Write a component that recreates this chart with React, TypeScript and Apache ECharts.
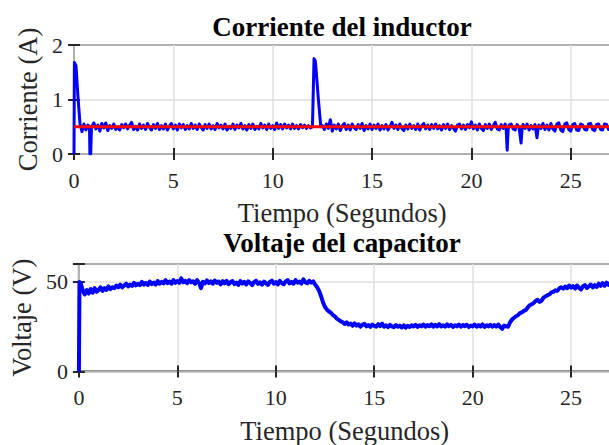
import React, { useEffect, useRef } from "react";
import * as echarts from "echarts";

const titleTop = "Corriente del inductor";
const titleBottom = "Voltaje del capacitor";
const xName = "Tiempo (Segundos)";
const yNameTop = "Corriente (A)";
const yNameBottom = "Voltaje (V)";

const currentRef: [number, number][] = [[0, 0.5], [27, 0.5]];

const currentMeasured: [number, number][] = [
  [0, 0], [0.02, 1.68], [0.1, 1.62], [0.2, 1.05], [0.3, 0.56], [0.4, 0.41], [0.5, 0.55], [0.6, 0.44],
  [0.7, 0.53], [0.78, 0.5], [0.8, 0.0], [0.84, 0.0], [0.88, 0.5], [1.0, 0.57], [1.1, 0.46], [1.2, 0.53],
  [1.3, 0.42], [1.4, 0.56], [1.5, 0.48], [1.6, 0.57], [1.7, 0.43], [1.8, 0.52], [1.9, 0.47], [2.0, 0.55],
  [2.1, 0.45], [2.2, 0.5], [2.3, 0.44], [2.4, 0.54], [2.5, 0.48], [2.6, 0.55], [2.7, 0.46], [2.8, 0.53],
  [2.9, 0.58], [3.0, 0.45], [3.1, 0.51], [3.2, 0.44], [3.3, 0.55], [3.4, 0.47], [3.5, 0.53], [3.6, 0.45],
  [3.7, 0.56], [3.8, 0.49], [3.9, 0.44], [4.0, 0.54], [4.1, 0.47], [4.2, 0.56], [4.3, 0.45], [4.4, 0.52],
  [4.5, 0.46], [4.6, 0.55], [4.7, 0.44], [4.8, 0.51], [4.9, 0.56], [5.0, 0.46], [5.1, 0.53], [5.2, 0.44],
  [5.3, 0.55], [5.4, 0.48], [5.5, 0.54], [5.6, 0.45], [5.7, 0.52], [5.8, 0.46], [5.9, 0.56], [6.0, 0.47],
  [6.1, 0.53], [6.2, 0.45], [6.3, 0.55], [6.4, 0.49], [6.5, 0.44], [6.6, 0.54], [6.7, 0.47], [6.8, 0.55],
  [6.9, 0.46], [7.0, 0.52], [7.1, 0.45], [7.2, 0.56], [7.3, 0.48], [7.4, 0.53], [7.5, 0.46], [7.6, 0.55],
  [7.7, 0.44], [7.8, 0.51], [7.9, 0.47], [8.0, 0.55], [8.1, 0.45], [8.2, 0.53], [8.3, 0.48], [8.4, 0.56],
  [8.5, 0.46], [8.6, 0.52], [8.7, 0.44], [8.8, 0.54], [8.9, 0.47], [9.0, 0.55], [9.1, 0.45], [9.2, 0.51],
  [9.3, 0.46], [9.4, 0.56], [9.5, 0.48], [9.6, 0.53], [9.7, 0.45], [9.8, 0.55], [9.9, 0.47], [10.0, 0.52],
  [10.1, 0.45], [10.2, 0.57], [10.3, 0.47], [10.4, 0.54], [10.5, 0.46], [10.6, 0.55], [10.7, 0.48], [10.8, 0.53],
  [10.9, 0.46], [11.0, 0.55], [11.1, 0.47], [11.2, 0.52], [11.3, 0.46], [11.4, 0.54], [11.5, 0.48], [11.6, 0.53],
  [11.7, 0.47], [11.8, 0.52], [11.9, 0.48], [12.0, 0.5], [12.08, 1.75], [12.15, 1.7], [12.3, 1.0],
  [12.42, 0.5], [12.5, 0.52], [12.6, 0.45], [12.7, 0.55], [12.8, 0.47], [12.9, 0.63], [13.0, 0.42], [13.1, 0.53],
  [13.2, 0.46], [13.3, 0.55], [13.4, 0.43], [13.5, 0.52], [13.6, 0.56], [13.7, 0.45], [13.8, 0.53], [13.9, 0.44],
  [14.0, 0.55], [14.1, 0.48], [14.2, 0.45], [14.3, 0.54], [14.4, 0.47], [14.5, 0.56], [14.6, 0.43], [14.7, 0.52],
  [14.8, 0.46], [14.9, 0.55], [15.0, 0.45], [15.1, 0.53], [15.2, 0.47], [15.3, 0.55], [15.4, 0.44], [15.5, 0.52],
  [15.6, 0.46], [15.7, 0.54], [15.8, 0.44], [15.9, 0.5], [16.0, 0.58], [16.1, 0.47], [16.2, 0.53], [16.3, 0.45],
  [16.4, 0.55], [16.5, 0.47], [16.6, 0.43], [16.7, 0.53], [16.8, 0.46], [16.9, 0.55], [17.0, 0.47], [17.1, 0.52],
  [17.2, 0.45], [17.3, 0.55], [17.4, 0.44], [17.5, 0.52], [17.6, 0.56], [17.7, 0.46], [17.8, 0.53], [17.9, 0.45],
  [18.0, 0.54], [18.1, 0.47], [18.2, 0.55], [18.3, 0.46], [18.4, 0.52], [18.5, 0.44], [18.6, 0.54], [18.7, 0.47],
  [18.8, 0.55], [18.9, 0.45], [19.0, 0.52], [19.1, 0.47], [19.2, 0.42], [19.3, 0.53], [19.4, 0.55], [19.5, 0.46],
  [19.6, 0.53], [19.7, 0.45], [19.8, 0.54], [19.9, 0.48], [20.0, 0.59], [20.1, 0.46], [20.2, 0.53], [20.3, 0.44],
  [20.4, 0.55], [20.5, 0.47], [20.6, 0.43], [20.7, 0.54], [20.8, 0.47], [20.9, 0.55], [21.0, 0.45], [21.1, 0.52],
  [21.2, 0.58], [21.3, 0.46], [21.4, 0.44], [21.5, 0.54], [21.6, 0.47], [21.7, 0.55], [21.75, 0.45], [21.8, 0.07],
  [21.85, 0.45], [21.9, 0.53], [22.0, 0.55], [22.1, 0.46], [22.2, 0.44], [22.3, 0.54], [22.4, 0.48], [22.5, 0.2],
  [22.55, 0.46], [22.6, 0.54], [22.7, 0.47], [22.8, 0.55], [22.9, 0.44], [23.0, 0.52], [23.1, 0.46], [23.2, 0.54],
  [23.3, 0.3], [23.35, 0.45], [23.4, 0.53], [23.5, 0.47], [23.6, 0.56], [23.7, 0.45], [23.8, 0.53], [23.9, 0.44],
  [24.0, 0.56], [24.1, 0.46], [24.2, 0.42], [24.3, 0.55], [24.4, 0.57], [24.5, 0.44], [24.6, 0.41], [24.7, 0.55],
  [24.8, 0.57], [24.9, 0.45], [25.0, 0.42], [25.1, 0.54], [25.2, 0.56], [25.3, 0.44], [25.4, 0.43], [25.5, 0.55],
  [25.6, 0.53], [25.7, 0.45], [25.8, 0.44], [25.9, 0.55], [26.0, 0.56], [26.1, 0.45], [26.2, 0.43], [26.3, 0.54],
  [26.4, 0.55], [26.5, 0.45], [26.6, 0.44], [26.7, 0.55], [26.8, 0.54], [26.9, 0.45], [27.0, 0.5],
];

const voltageMeasured: [number, number][] = [
  [0, 0], [0.03, 50], [0.1, 49], [0.2, 45], [0.3, 43], [0.4, 45.5], [0.5, 43.5], [0.6, 46], [0.7, 44],
  [0.8, 46.5], [0.9, 44.5], [1.0, 45.5], [1.1, 47], [1.2, 45], [1.3, 46.5], [1.4, 45.5], [1.5, 47.5],
  [1.6, 46], [1.7, 47], [1.8, 46.5], [1.9, 48], [2.0, 47], [2.1, 48.5], [2.2, 47], [2.3, 48], [2.4, 49],
  [2.5, 47.5], [2.6, 48.5], [2.7, 47.8], [2.8, 49.5], [2.9, 48], [3.0, 49], [3.1, 48.2], [3.2, 50],
  [3.3, 48.5], [3.4, 49.5], [3.5, 48.3], [3.6, 50.2], [3.7, 48.8], [3.8, 49.6], [3.9, 48.5], [4.0, 50.5],
  [4.1, 49], [4.2, 50], [4.3, 49.2], [4.4, 51], [4.5, 49.3], [4.6, 50.2], [4.7, 49], [4.8, 51], [4.9, 49.5],
  [5.0, 50.5], [5.1, 49.5], [5.2, 52], [5.3, 49.8], [5.4, 50.6], [5.5, 49.3], [5.6, 51], [5.7, 49.8],
  [5.8, 50.4], [5.9, 49], [6.0, 51], [6.1, 49.6], [6.2, 46.5], [6.3, 50], [6.4, 49.2], [6.5, 50.8],
  [6.6, 49.4], [6.7, 50.3], [6.8, 49], [6.9, 50.8], [7.0, 49.5], [7.1, 50.2], [7.2, 48.6], [7.3, 50.4],
  [7.4, 49.2], [7.5, 50.6], [7.6, 48.7], [7.7, 49.8], [7.8, 50.5], [7.9, 48.8], [8.0, 49.6], [8.1, 48.3],
  [8.2, 50.5], [8.3, 49.1], [8.4, 50], [8.5, 48.6], [8.6, 50.3], [8.7, 49.4], [8.8, 48.2], [8.9, 50],
  [9.0, 50.6], [9.1, 48.9], [9.2, 49.8], [9.3, 48.5], [9.4, 50.2], [9.5, 49.3], [9.6, 48.3], [9.7, 50],
  [9.8, 50.7], [9.9, 49], [10.0, 49.9], [10.1, 48.6], [10.2, 50.6], [10.3, 49.4], [10.4, 48.7], [10.5, 50.3],
  [10.6, 51], [10.7, 49.2], [10.8, 50], [10.9, 49], [11.0, 51], [11.1, 49.6], [11.2, 50.2], [11.3, 49.1],
  [11.4, 51.5], [11.5, 49.8], [11.6, 49.2], [11.7, 50.6], [11.8, 49.6], [11.9, 50.3], [12.0, 48.5],
  [12.1, 47], [12.2, 45], [12.3, 42], [12.4, 38.5], [12.5, 36], [12.6, 34.5], [12.7, 33.5], [12.8, 32.8],
  [12.9, 31.5], [13.0, 30.8], [13.1, 29.5], [13.2, 28.8], [13.3, 28], [13.4, 27.5], [13.5, 26.5], [13.6, 27.4],
  [13.7, 26.2], [13.8, 26.8], [13.9, 25.5], [14.0, 26.9], [14.1, 25.6], [14.2, 26.3], [14.3, 25], [14.4, 26.1],
  [14.5, 26.6], [14.6, 25.2], [14.7, 25.9], [14.8, 24.9], [14.9, 26.2], [15.0, 25.4], [15.1, 25], [15.2, 26.4],
  [15.3, 25.3], [15.4, 26.7], [15.5, 25], [15.6, 25.8], [15.7, 24.8], [15.8, 26], [15.9, 25.2], [16.0, 24.7],
  [16.1, 25.9], [16.2, 25], [16.3, 25.6], [16.4, 24.6], [16.5, 25.8], [16.6, 24.5], [16.7, 25.5], [16.8, 24.9],
  [16.9, 25.8], [17.0, 25.1], [17.1, 26], [17.2, 24.9], [17.3, 25.8], [17.4, 25.2], [17.5, 26.2], [17.6, 25],
  [17.7, 25.9], [17.8, 25.3], [17.9, 26.3], [18.0, 25], [18.1, 26.1], [18.2, 25.2], [18.3, 26.4], [18.4, 25.1],
  [18.5, 25.8], [18.6, 25], [18.7, 26.3], [18.8, 25.3], [18.9, 26], [19.0, 24.9], [19.1, 25.8], [19.2, 25.2],
  [19.3, 26.2], [19.4, 25], [19.5, 25.9], [19.6, 25.3], [19.7, 26.1], [19.8, 24.8], [19.9, 25.7], [20.0, 25.2],
  [20.1, 26.2], [20.2, 25], [20.3, 25.9], [20.4, 25.1], [20.5, 26.3], [20.6, 24.9], [20.7, 25.8], [20.8, 25.2],
  [20.9, 26.1], [21.0, 25], [21.1, 25.9], [21.2, 25.1], [21.3, 26.2], [21.4, 24.8], [21.5, 23.8], [21.6, 25.7],
  [21.7, 25.2], [21.8, 25], [21.9, 27.5], [22.0, 29], [22.1, 30], [22.2, 30.8], [22.3, 31.5], [22.4, 32.6],
  [22.5, 33], [22.6, 33.8], [22.7, 34.3], [22.8, 35.8], [22.9, 37], [23.0, 37.6], [23.1, 38.2], [23.2, 39.5],
  [23.3, 40], [23.4, 38.8], [23.5, 39.6], [23.6, 41.2], [23.7, 42], [23.8, 42.6], [23.9, 43], [24.0, 44.2],
  [24.1, 44.5], [24.2, 45.3], [24.3, 45], [24.4, 46.4], [24.5, 47], [24.6, 46.2], [24.7, 47.4], [24.8, 46.5],
  [24.9, 48], [25.0, 46.8], [25.1, 47.6], [25.2, 46.3], [25.3, 48], [25.4, 46.7], [25.5, 45.8], [25.6, 47.6],
  [25.7, 48.2], [25.8, 46.6], [25.9, 47.5], [26.0, 48.5], [26.1, 47], [26.2, 48.2], [26.3, 47.2], [26.4, 49],
  [26.5, 47.8], [26.6, 49.3], [26.7, 47.9], [26.8, 49.6], [26.9, 48.4], [27.0, 49.5],
];

const FONT = "'Liberation Serif', 'DejaVu Serif', serif";
const AX = "#262626";
const GRIDC = "#dfdfdf";

function xAxes(gridIndex: number, nameGap: number) {
  const common = {
    type: "value",
    gridIndex,
    min: 0,
    max: 27,
    interval: 5,
    axisLine: { show: false },
  };
  return [
    {
      ...common,
      position: "bottom",
      name: xName,
      nameLocation: "middle",
      nameGap,
      nameTextStyle: { fontFamily: FONT, fontSize: 26.5, color: AX },
      axisTick: { show: true, inside: true, length: 6, lineStyle: { color: AX, width: 2 } },
      axisLabel: {
        show: true,
        margin: 15,
        showMaxLabel: false,
        textStyle: { fontFamily: FONT, fontSize: 22, color: AX },
        fontFamily: FONT,
        fontSize: 22,
        color: AX,
      },
      splitLine: { show: true, lineStyle: { color: GRIDC, width: 1.5 } },
    },
    {
      ...common,
      position: "top",
      axisTick: { show: true, inside: true, length: 6, lineStyle: { color: AX, width: 2 } },
      axisLabel: { show: false },
      splitLine: { show: false },
    },
  ];
}

function yAxes(gridIndex: number, max: number, interval: number, name: string, nameGap: number) {
  const common = {
    type: "value",
    gridIndex,
    min: 0,
    max,
    interval,
    axisLine: { show: false },
  };
  return [
    {
      ...common,
      position: "left",
      name,
      nameLocation: "middle",
      nameRotate: 90,
      nameGap,
      nameTextStyle: { fontFamily: FONT, fontSize: 26.5, color: AX },
      axisTick: { show: true, inside: true, length: 6, lineStyle: { color: AX, width: 2 } },
      axisLabel: {
        show: true,
        margin: 11,
        fontFamily: FONT,
        fontSize: 22,
        color: AX,
        formatter: (v: number) => (v % interval === 0 ? String(v) : ""),
      },
      splitLine: { show: true, lineStyle: { color: GRIDC, width: 1.5 } },
    },
    {
      ...common,
      position: "right",
      axisTick: { show: true, inside: true, length: 6, lineStyle: { color: AX, width: 2 } },
      axisLabel: { show: false },
      splitLine: { show: false },
    },
  ];
}

export default function App() {
  const ref = useRef<HTMLDivElement>(null);
  useEffect(() => {
    if (!ref.current) return;
    const chart = echarts.init(ref.current, null, { renderer: "svg" });
    chart.setOption({
      animation: false,
      backgroundColor: "#ffffff",
      textStyle: { fontFamily: FONT },
      title: [
        {
          text: titleTop,
          left: 342,
          top: 13,
          padding: 0,
          textAlign: "center",
          textStyle: { fontFamily: FONT, fontSize: 27, fontWeight: "bold", color: "#000" },
        },
        {
          text: titleBottom,
          left: 342,
          top: 229,
          padding: 0,
          textAlign: "center",
          textStyle: { fontFamily: FONT, fontSize: 27, fontWeight: "bold", color: "#000" },
        },
      ],
      grid: [
        { left: 74, top: 45, width: 536.5, height: 109, show: true, borderColor: AX, borderWidth: 2, backgroundColor: "#fff" },
        { left: 74, top: 264, width: 536.5, height: 109.5, show: true, borderColor: AX, borderWidth: 2, backgroundColor: "#fff" },
      ],
      xAxis: [...xAxes(0, 45), ...xAxes(1, 45.5)],
      yAxis: [...yAxes(0, 2, 1, yNameTop, 28), ...yAxes(1, 60, 50, yNameBottom, 38)],
      series: [
        {
          type: "line",
          xAxisIndex: 0,
          yAxisIndex: 0,
          data: currentMeasured,
          showSymbol: false,
          lineStyle: { color: "#0000ff", width: 3, join: "round" },
          z: 3,
        },
        {
          type: "line",
          xAxisIndex: 0,
          yAxisIndex: 0,
          data: currentRef,
          showSymbol: false,
          lineStyle: { color: "#ff0000", width: 3 },
          z: 4,
        },
        {
          type: "line",
          xAxisIndex: 2,
          yAxisIndex: 2,
          data: voltageMeasured,
          showSymbol: false,
          lineStyle: { color: "#0000ff", width: 4, join: "round" },
          z: 3,
        },
      ],
    });
    return () => chart.dispose();
  }, []);
  return (
    <div
      ref={ref}
      style={{ position: "fixed", left: 0, top: 0, width: 612, height: 445, background: "#fff" }}
    />
  );
}
